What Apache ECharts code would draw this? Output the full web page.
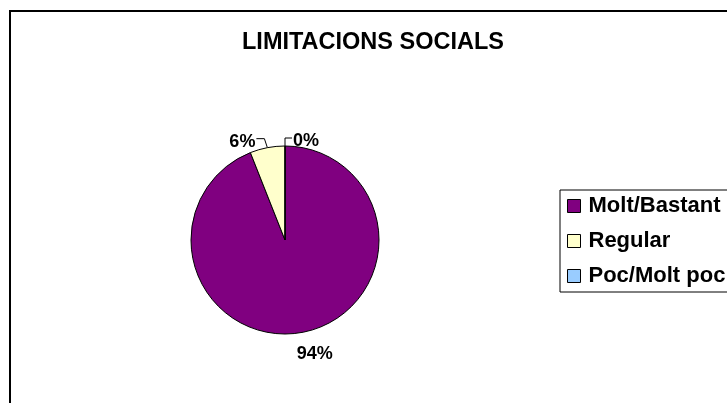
<!DOCTYPE html>
<html><head><meta charset="utf-8">
<script src="https://cdn.jsdelivr.net/npm/echarts@6/dist/echarts.min.js"></script>
<style>html,body{margin:0;padding:0;background:#fff}#c{width:727px;height:403px}</style>
</head><body><div id="c"></div>
<script>
const titleText = 'LIMITACIONS SOCIALS';
const categories = ['Molt/Bastant', 'Regular', 'Poc/Molt poc'];
const values = [94, 6, 0];
const colors = ['#800080', '#FFFFCC', '#99CCFF'];
const FONT = "'Liberation Sans', Arial, sans-serif";

const chart = echarts.init(document.getElementById('c'), null, {renderer: 'canvas'});
const data = categories.map((name, i) => ({
  name: name,
  value: values[i],
  itemStyle: {color: colors[i]},
  labelLine: i === 0 ? {lineStyle: {opacity: 0}} : undefined
}));

chart.setOption({
  backgroundColor: '#fff',
  animation: false,
  graphic: [{
    type: 'rect', silent: true, z: -1,
    shape: {x: 10, y: 11, width: 900, height: 600},
    style: {fill: 'none', stroke: '#000', lineWidth: 2}
  }],
  title: {
    text: titleText, left: 373, top: 31, textAlign: 'center', padding: 0,
    textStyle: {fontFamily: FONT, fontWeight: 'bold', fontSize: 23.5, color: '#000'}
  },
  legend: {
    orient: 'vertical', left: 560, top: 190,
    padding: [5, 60, 5, 7],
    borderColor: '#000', borderWidth: 1,
    itemWidth: 13, itemHeight: 13, itemGap: 13,
    icon: 'rect',
    itemStyle: {borderColor: '#000', borderWidth: 1},
    textStyle: {fontFamily: FONT, fontWeight: 'bold', fontSize: 22, lineHeight: 22, color: '#000', padding: [0, 0, 0, 3]},
    data: categories
  },
  series: [{
    type: 'pie',
    center: [285, 240],
    radius: 94,
    startAngle: 90,
    clockwise: true,
    avoidLabelOverlap: false,
    itemStyle: {borderColor: '#000', borderWidth: 1},
    label: {
      show: true, position: 'outside', formatter: '{c}%',
      fontFamily: FONT, fontWeight: 'bold', fontSize: 18, color: '#000'
    },
    labelLine: {show: true, length: 8, length2: 8, lineStyle: {color: '#000', width: 1}},
    emphasis: {disabled: true},
    labelLayout: function (p) {
      const pts = p.labelLinePoints;
      if (!pts) return {};
      const p0 = pts[0], p1 = pts[1];
      let ux = p1[0] - p0[0], uy = p1[1] - p0[1];
      const L = Math.hypot(ux, uy) || 1; ux /= L; uy /= L;
      if (p.dataIndex === 0) {
        return {x: p0[0] + ux * 22 + 8, y: p0[1] + uy * 22, align: 'center', verticalAlign: 'middle',
                labelLinePoints: [p0, p0, p0]};
      }
      if (p.dataIndex === 1) {
        const a = [p0[0] - 3, p0[1] - 9], b = [a[0] - 8, a[1]];
        return {x: b[0] - 1, y: b[1] - 6, align: 'right', verticalAlign: 'top', labelLinePoints: [p0, a, b]};
      }
      const a = [p0[0], p0[1] - 8], b = [a[0] + 7, a[1]];
      return {x: b[0] + 1, y: b[1] - 6, align: 'left', verticalAlign: 'top', labelLinePoints: [p0, a, b]};
    },
    data: data
  }]
});
</script>
</body></html>
